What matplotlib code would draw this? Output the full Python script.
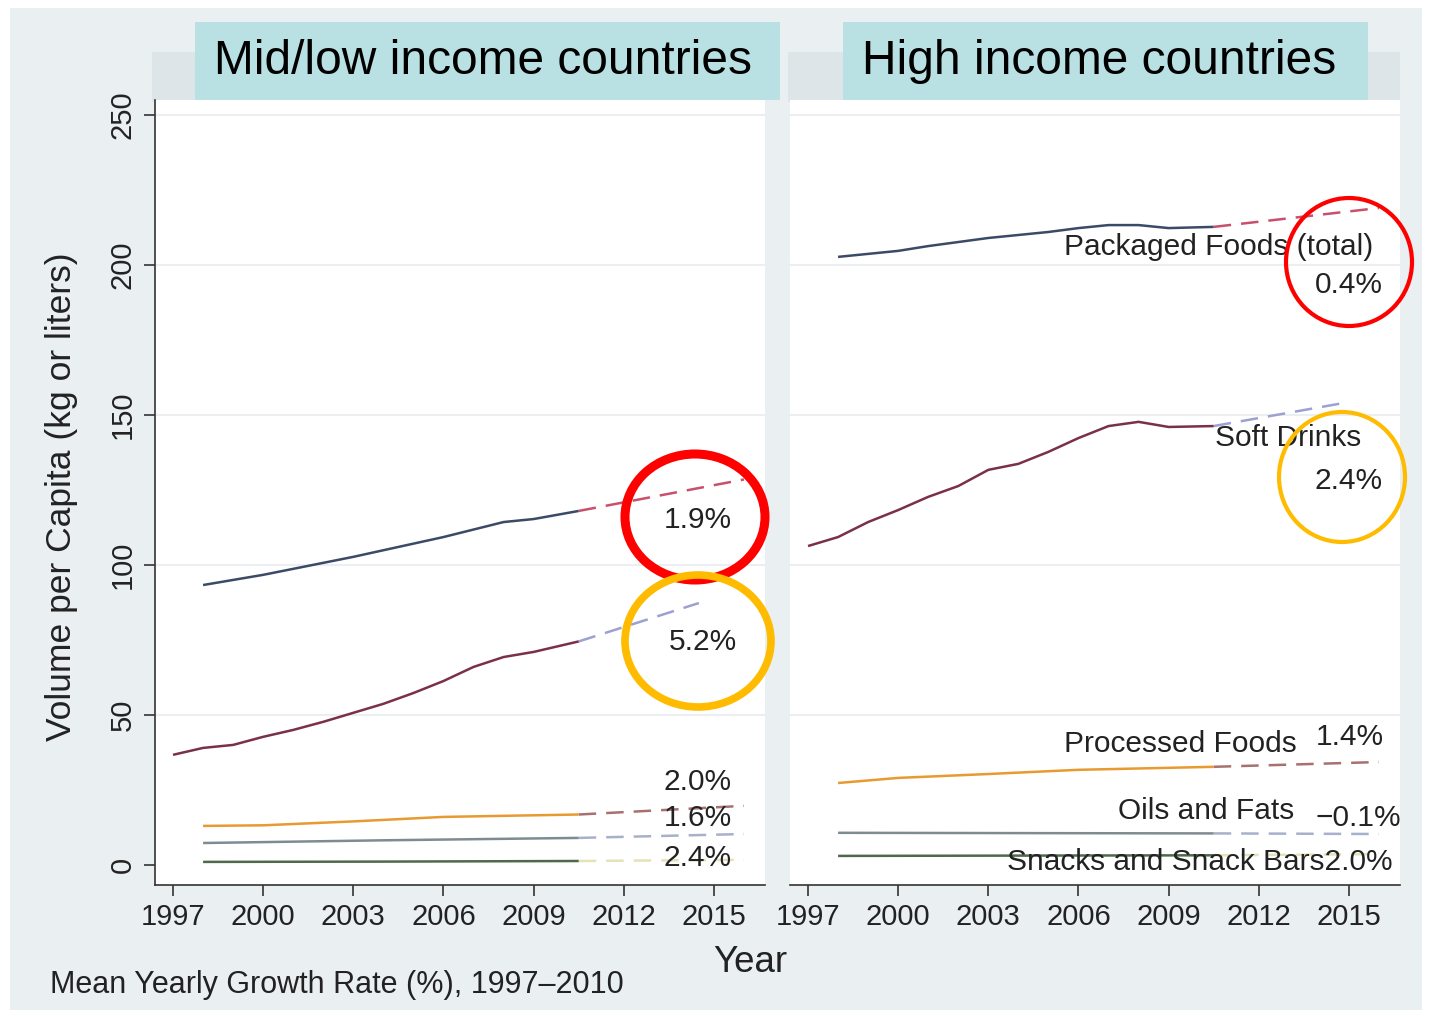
import matplotlib
matplotlib.use("Agg")
import matplotlib.pyplot as plt
from matplotlib.patches import Rectangle, Ellipse

plt.rcParams['font.family'] = ['Liberation Sans', 'DejaVu Sans']

# ---------------- data ----------------
# Mid/low income countries (solid = observed, dashed = projection)
ml_pack_years = [1998, 2000, 2003, 2006, 2008, 2009, 2010.5]
ml_pack_vals = [93.3, 96.7, 102.7, 109.3, 114.3, 115.3, 118.0]
ml_pack_proj_years = [2010.5, 2016]
ml_pack_proj_vals = [118.0, 128.5]

ml_soft_years = [1997, 1998, 1999, 2000, 2001, 2002, 2003, 2004, 2005, 2006, 2007, 2008, 2009, 2010.5]
ml_soft_vals = [36.7, 39.0, 40.0, 42.7, 45.0, 47.7, 50.7, 53.7, 57.3, 61.3, 66.0, 69.3, 71.0, 74.5]
ml_soft_proj_years = [2010.5, 2014.5]
ml_soft_proj_vals = [74.5, 87.3]

ml_proc_years = [1998, 2000, 2003, 2006, 2010.5]
ml_proc_vals = [13.0, 13.2, 14.5, 16.0, 16.8]
ml_proc_proj_years = [2010.5, 2016]
ml_proc_proj_vals = [16.8, 19.7]

ml_oils_years = [1998, 2004, 2010.5]
ml_oils_vals = [7.3, 8.2, 9.0]
ml_oils_proj_years = [2010.5, 2016]
ml_oils_proj_vals = [9.0, 10.3]

ml_snack_years = [1998, 2004, 2010.5]
ml_snack_vals = [1.0, 1.1, 1.3]
ml_snack_proj_years = [2010.5, 2016]
ml_snack_proj_vals = [1.3, 1.7]

# High income countries
hi_pack_years = [1998, 2000, 2001, 2003, 2005, 2006, 2007, 2008, 2009, 2010.5]
hi_pack_vals = [202.7, 204.7, 206.3, 209.0, 211.0, 212.3, 213.3, 213.3, 212.3, 212.7]
hi_pack_proj_years = [2010.5, 2016]
hi_pack_proj_vals = [212.7, 219.0]

hi_soft_years = [1997, 1998, 1999, 2000, 2001, 2002, 2003, 2004, 2005, 2006, 2007, 2008, 2009, 2010.5]
hi_soft_vals = [106.3, 109.3, 114.3, 118.3, 122.7, 126.3, 131.7, 133.7, 137.7, 142.3, 146.3, 147.7, 146.0, 146.3]
hi_soft_proj_years = [2010.5, 2015]
hi_soft_proj_vals = [146.3, 154.3]

hi_proc_years = [1998, 2000, 2003, 2006, 2010.5]
hi_proc_vals = [27.3, 29.0, 30.3, 31.7, 32.7]
hi_proc_proj_years = [2010.5, 2016]
hi_proc_proj_vals = [32.7, 34.3]

hi_oils_years = [1998, 2004, 2010.5]
hi_oils_vals = [10.7, 10.6, 10.5]
hi_oils_proj_years = [2010.5, 2016]
hi_oils_proj_vals = [10.5, 10.3]

hi_snack_years = [1998, 2004, 2010.5]
hi_snack_vals = [3.0, 3.1, 3.2]
hi_snack_proj_years = [2010.5, 2016]
hi_snack_proj_vals = [3.2, 3.6]

x_ticks = [1997, 2000, 2003, 2006, 2009, 2012, 2015]
y_ticks = [0, 50, 100, 150, 200, 250]
panel_titles = ["Mid/low income countries", "High income countries"]

ml_rates = ["1.9%", "5.2%", "2.0%", "1.6%", "2.4%"]
hi_labels = ["Packaged Foods (total)", "Soft Drinks", "Processed Foods", "Oils and Fats", "Snacks and Snack Bars2.0%"]
hi_rates = ["0.4%", "2.4%", "1.4%", "\u22120.1%"]

# ---------------- styling ----------------
C_PACK = "#3b4a66"
C_SOFT = "#7a3048"
C_PROC = "#e89a30"
C_OILS = "#7e8c92"
C_SNACK = "#4e6a4a"
D_PACK = "#c8506c"
D_SOFT = "#9da0d2"
D_PROC = "#a87070"
D_OILS = "#a8b0cc"
D_SNACK = "#e6e2b8"
TXT = "#222222"
LBL = 21.5

W, H = 1431, 1016
fig = plt.figure(figsize=(W / 100, H / 100), dpi=100, facecolor="white")

# background layer (pixel coords)
bg = fig.add_axes([0, 0, 1, 1], zorder=0)
bg.set_xlim(0, W)
bg.set_ylim(H, 0)
bg.axis("off")
bg.add_patch(Rectangle((10, 8), 1412, 1002, color="#eaeff2", lw=0))
bg.add_patch(Rectangle((152, 52), 613, 50, color="#dde5e9", lw=0))
bg.add_patch(Rectangle((788, 52), 612, 50, color="#dde5e9", lw=0))


def px_ax(x0, x1, y0, y1):
    return [x0 / W, 1 - y1 / H, (x1 - x0) / W, (y1 - y0) / H]


axL = fig.add_axes(px_ax(155, 765, 100, 885), zorder=1)
axR = fig.add_axes(px_ax(790, 1400, 100, 885), zorder=1)

series_L = [
    (ml_pack_years, ml_pack_vals, ml_pack_proj_years, ml_pack_proj_vals, C_PACK, D_PACK),
    (ml_soft_years, ml_soft_vals, ml_soft_proj_years, ml_soft_proj_vals, C_SOFT, D_SOFT),
    (ml_proc_years, ml_proc_vals, ml_proc_proj_years, ml_proc_proj_vals, C_PROC, D_PROC),
    (ml_oils_years, ml_oils_vals, ml_oils_proj_years, ml_oils_proj_vals, C_OILS, D_OILS),
    (ml_snack_years, ml_snack_vals, ml_snack_proj_years, ml_snack_proj_vals, C_SNACK, D_SNACK),
]
series_R = [
    (hi_pack_years, hi_pack_vals, hi_pack_proj_years, hi_pack_proj_vals, C_PACK, D_PACK),
    (hi_soft_years, hi_soft_vals, hi_soft_proj_years, hi_soft_proj_vals, C_SOFT, D_SOFT),
    (hi_proc_years, hi_proc_vals, hi_proc_proj_years, hi_proc_proj_vals, C_PROC, D_PROC),
    (hi_oils_years, hi_oils_vals, hi_oils_proj_years, hi_oils_proj_vals, C_OILS, D_OILS),
    (hi_snack_years, hi_snack_vals, hi_snack_proj_years, hi_snack_proj_vals, C_SNACK, D_SNACK),
]

for ax, series in ((axL, series_L), (axR, series_R)):
    ax.set_facecolor("white")
    ax.set_xlim(1996.4, 2016.7)
    ax.set_ylim(-6.7, 255)
    for y in y_ticks[1:]:
        ax.axhline(y, color="#eceff1", lw=1.5, zorder=0)
    for xs, ys, pxs, pys, c, dc in series:
        ax.plot(xs, ys, color=c, lw=1.8, solid_capstyle="butt", zorder=3)
        ax.plot(pxs, pys, color=dc, lw=1.8, linestyle=(0, (7, 4)), zorder=2)
    ax.set_xticks(x_ticks)
    ax.set_xticklabels([str(t) for t in x_ticks], fontsize=21)
    for s in ("top", "right"):
        ax.spines[s].set_visible(False)
    ax.spines["bottom"].set_color("#333333")
    ax.spines["bottom"].set_linewidth(1.2)
    ax.tick_params(axis="x", length=8, width=1.2, color="#333333", pad=5, labelcolor=TXT)

axL.set_yticks(y_ticks)
axL.set_yticklabels([str(t) for t in y_ticks], fontsize=21, rotation=90, va="center")
axL.tick_params(axis="y", length=8, width=1.2, color="#333333", pad=5, labelcolor=TXT)
axL.spines["left"].set_color("#333333")
axL.spines["left"].set_linewidth(1.2)
axR.spines["left"].set_visible(False)
axR.set_yticks([])

# left panel growth-rate labels
lx = [2014.47, 2014.63, 2014.47, 2014.47, 2014.47]
ly = [115.0, 74.3, 27.7, 15.7, 2.3]
for t, x, y in zip(ml_rates, lx, ly):
    axL.text(x, y, t, fontsize=LBL, ha="center", va="center", color=TXT, zorder=5)

# right panel labels
rlx = [2015.8, 2015.4, 2013.27, 2013.17, 2016.47]
rly = [206.0, 142.3, 40.3, 18.0, 1.0]
for t, x, y in zip(hi_labels, rlx, rly):
    axR.text(x, y, t, fontsize=LBL, ha="right", va="center", color=TXT, zorder=5)
rrx = [2015.0, 2015.0, 2015.03, 2015.3]
rry = [193.3, 128.0, 42.7, 15.7]
for t, x, y in zip(hi_rates, rrx, rry):
    axR.text(x, y, t, fontsize=LBL, ha="center", va="center", color=TXT, zorder=5)

# overlay: title boxes, circles, axis titles
ov = fig.add_axes([0, 0, 1, 1], zorder=3)
ov.set_xlim(0, W)
ov.set_ylim(H, 0)
ov.axis("off")
ov.patch.set_alpha(0)
ov.add_patch(Rectangle((195, 22), 585, 78, color="#b9e0e3", lw=0))
ov.add_patch(Rectangle((843, 22), 525, 78, color="#b9e0e3", lw=0))
ov.text(483, 62, panel_titles[0], fontsize=34.5, ha="center", va="center", color="black")
ov.text(1099, 62, panel_titles[1], fontsize=34.5, ha="center", va="center", color="black")

ov.add_patch(Ellipse((695, 517), 140, 126, fill=False, ec="#ff0000", lw=6.5))
ov.add_patch(Ellipse((698, 641), 146, 132, fill=False, ec="#ffbb00", lw=5.5))
ov.add_patch(Ellipse((1349, 262), 126, 128, fill=False, ec="#ff0000", lw=3))
ov.add_patch(Ellipse((1342, 477), 126, 130, fill=False, ec="#ffbb00", lw=3))

ov.text(62, 497, "Volume per Capita (kg or liters)", fontsize=25.5, rotation=90,
        ha="center", va="center", color=TXT)
ov.text(750, 963, "Year", fontsize=26.5, ha="center", va="center", color=TXT)
ov.text(50, 985, "Mean Yearly Growth Rate (%), 1997\u20132010", fontsize=22,
        ha="left", va="center", color=TXT)

fig.savefig("out.png", dpi=100, facecolor="white")
